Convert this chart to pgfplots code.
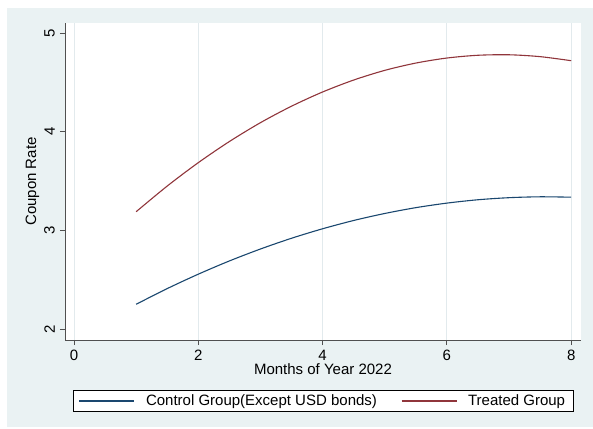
\documentclass[border=0pt]{standalone}
\usepackage{fontspec}
\setmainfont{Liberation Sans}
\usepackage{pgfplots}
\pgfplotsset{compat=1.18}
\definecolor{stbg}{RGB}{234,242,243}
\definecolor{stgrid}{RGB}{226,234,237}
\definecolor{stnavy}{RGB}{26,71,111}
\definecolor{stmaroon}{RGB}{144,53,59}
\definecolor{axgray}{RGB}{80,80,80}
\begin{document}
\fontsize{15}{18}\selectfont
\begin{tikzpicture}[x=1pt,y=1pt]
\useasboundingbox (0,0) rectangle (593,428);
\fill[stbg] (7,1) rectangle (593,420);
\begin{axis}[
  at={(65pt,88pt)}, anchor=south west,
  scale only axis, width=516pt, height=317pt,
  xmin=-0.145, xmax=8.158, ymin=1.889, ymax=5.101,
  axis x line*=bottom, axis y line*=left,
  axis line style={-, draw=axgray, line width=0.8pt},
  axis background/.style={fill=white},
  xtick={0,2,4,6,8}, ytick={2,3,4,5},
  tick align=outside, major tick length=5pt,
  tick style={axgray, line width=0.8pt},
  xmajorgrids, grid style={stgrid, line width=1pt},
  /pgf/number format/assume math mode=true,
  ticklabel style={font=\fontsize{15}{18}\selectfont},
  yticklabel style={rotate=90, anchor=south},
  xlabel={Months of Year 2022}, ylabel={Coupon Rate},
  label style={font=\fontsize{15}{18}\selectfont},
  every axis x label/.style={at={(axis description cs:0.5,-0.1104)}, anchor=base},
  every axis y label/.style={at={(axis description cs:-0.0562,0.5)}, rotate=90, anchor=base},
  legend columns=2,
  legend style={at={(axis description cs:0.5,-0.1924)}, anchor=center,
    draw=black, line width=0.6pt, fill=white, inner xsep=6pt, inner ysep=2pt,
    font=\fontsize{15}{18}\selectfont,
    /tikz/every even column/.append style={column sep=22pt}},
  legend image code/.code={\draw[#1] (0pt,0pt) -- (55pt,0pt); \path (64pt,0pt);},
]
\addplot[stnavy, line width=1.1pt, smooth] coordinates {
(1,2.251) (1.5,2.410) (2,2.556) (2.5,2.690) (3,2.811) (3.5,2.920) (4,3.016)
(4.5,3.100) (5,3.171) (5.5,3.230) (6,3.276) (6.5,3.310) (7,3.331) (7.5,3.340) (8,3.336)};
\addlegendentry{Control Group(Except USD bonds)}
\addplot[stmaroon, line width=1.1pt, smooth] coordinates {
(1,3.189) (1.5,3.449) (2,3.686) (2.5,3.900) (3,4.091) (3.5,4.258) (4,4.402)
(4.5,4.523) (5,4.621) (5.5,4.695) (6,4.746) (6.5,4.774) (7,4.779) (7.5,4.760) (8,4.719)};
\addlegendentry{Treated Group}
\end{axis}
\end{tikzpicture}
\end{document}
